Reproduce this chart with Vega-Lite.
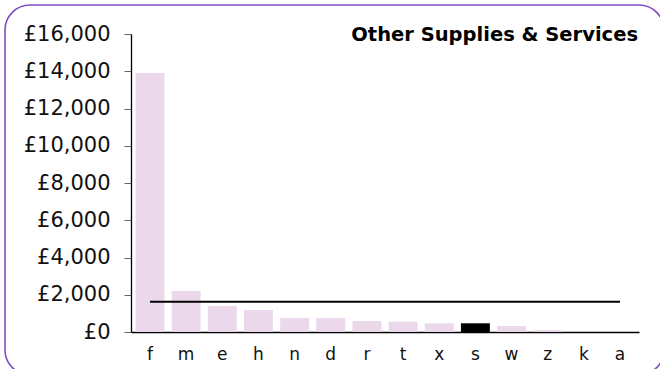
{
  "$schema": "https://vega.github.io/schema/vega-lite/v6.json",
  "autosize": {"type": "none"},
  "padding": {"left": 5, "top": 5, "right": 0, "bottom": 0},
  "width": 659,
  "height": 370,
  "background": "white",
  "config": {
    "view": {"stroke": "#7E50BE", "strokeWidth": 1.6, "cornerRadius": 25, "fill": "white"},
    "font": "DejaVu Sans"
  },
  "title": {
    "text": "Other Supplies & Services",
    "anchor": "end",
    "frame": "group",
    "orient": "top",
    "baseline": "alphabetic",
    "offset": -36,
    "dy": 19,
    "dx": -26,
    "font": "DejaVu Sans",
    "fontSize": 19.5,
    "fontWeight": "bold",
    "color": "#000000"
  },
  "data": {
    "values": [
      {"area": "f", "spend": 13900, "average": 1630, "highlight": "no"},
      {"area": "m", "spend": 2200, "average": 1630, "highlight": "no"},
      {"area": "e", "spend": 1400, "average": 1630, "highlight": "no"},
      {"area": "h", "spend": 1180, "average": 1630, "highlight": "no"},
      {"area": "n", "spend": 750, "average": 1630, "highlight": "no"},
      {"area": "d", "spend": 750, "average": 1630, "highlight": "no"},
      {"area": "r", "spend": 590, "average": 1630, "highlight": "no"},
      {"area": "t", "spend": 555, "average": 1630, "highlight": "no"},
      {"area": "x", "spend": 467, "average": 1630, "highlight": "no"},
      {"area": "s", "spend": 467, "average": 1630, "highlight": "yes"},
      {"area": "w", "spend": 322, "average": 1630, "highlight": "no"},
      {"area": "z", "spend": 107, "average": 1630, "highlight": "no"},
      {"area": "k", "spend": 0, "average": 1630, "highlight": "no"},
      {"area": "a", "spend": 0, "average": 1630, "highlight": "no"}
    ]
  },
  "encoding": {
    "x": {
      "field": "area",
      "type": "nominal",
      "sort": null,
      "scale": {"range": [126, 634], "paddingInner": 0.2, "paddingOuter": 0.125},
      "axis": {
        "title": null,
        "orient": "bottom",
        "offset": -43,
        "labelAngle": 0,
        "ticks": false,
        "tickSize": 0,
        "labelPadding": 14,
        "labelFont": "DejaVu Sans",
        "labelFontSize": 17,
        "labelColor": "#111111",
        "domainColor": "#000000",
        "domainWidth": 1.3
      }
    }
  },
  "layer": [
    {
      "mark": {"type": "bar"},
      "encoding": {
        "y": {
          "field": "spend",
          "type": "quantitative",
          "scale": {"domain": [0, 16000], "range": [327, 29], "nice": false, "zero": true},
          "axis": {
            "title": null,
            "orient": "left",
            "offset": -126,
            "grid": false,
            "values": [0, 2000, 4000, 6000, 8000, 10000, 12000, 14000, 16000],
            "labelExpr": "'£' + format(datum.value, ',')",
            "labelFont": "DejaVu Sans",
            "labelFontSize": 21,
            "labelColor": "#111111",
            "labelPadding": 14,
            "tickSize": 7,
            "tickColor": "#666666",
            "domainColor": "#000000",
            "domainWidth": 1.3
          }
        },
        "color": {
          "field": "highlight",
          "type": "nominal",
          "scale": {"domain": ["no", "yes"], "range": ["#EBD9EB", "#000000"]},
          "legend": null
        }
      }
    },
    {
      "mark": {"type": "line", "color": "#000000", "strokeWidth": 2},
      "encoding": {
        "y": {"field": "average", "type": "quantitative"}
      }
    }
  ]
}
